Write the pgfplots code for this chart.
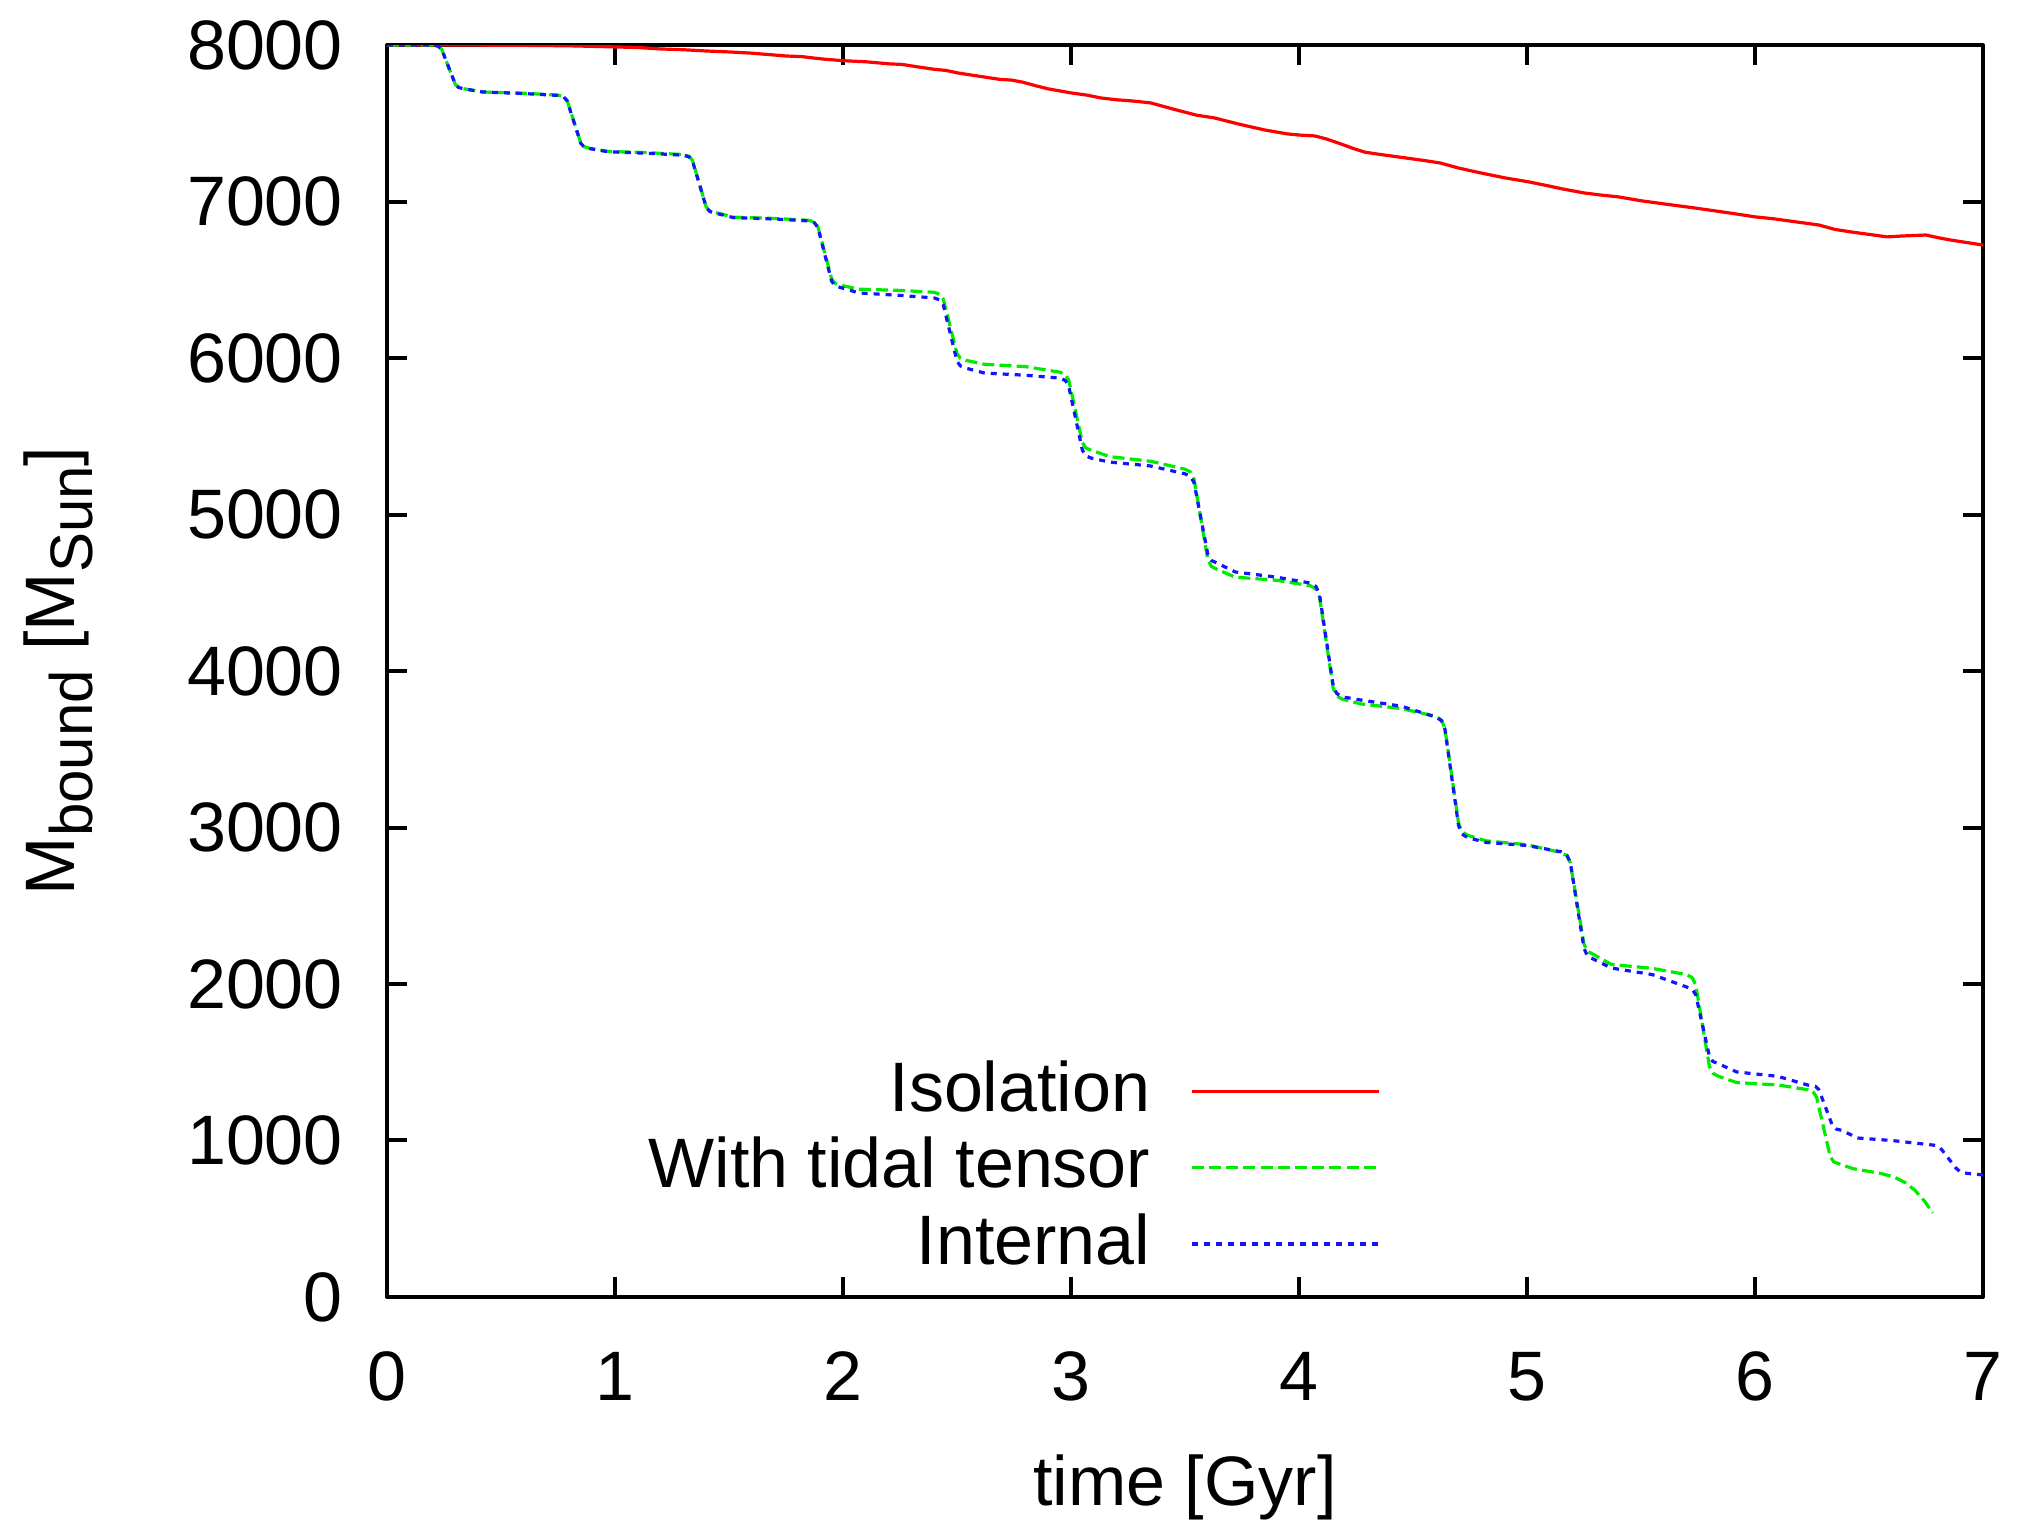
\documentclass[border=0pt]{standalone}
\usepackage{fontspec}
\setmainfont{Liberation Sans}
\usepackage{pgfplots}
\pgfplotsset{compat=1.18}
\definecolor{gpred}{RGB}{255,0,0}
\definecolor{gpgreen}{RGB}{0,235,0}
\definecolor{gpblue}{RGB}{20,20,255}
\begin{document}
\fontsize{17.5}{18}\selectfont
\begin{tikzpicture}
\begin{axis}[
 scale only axis, width=399pt, height=313pt,
 xmin=0, xmax=7, ymin=0, ymax=8000,
 xtick={0,1,...,7}, ytick={0,1000,...,8000},
 scaled y ticks=false,
 /pgf/number format/1000 sep={},
 /pgf/number format/assume math mode=true,
 tick align=inside, major tick length=5pt,
 every tick/.style={black, line width=1pt},
 axis line style={line width=1pt},
 tick label style={font=\fontsize{17.5}{18}\selectfont},
 xticklabel style={yshift=-7.75pt},
 yticklabel style={xshift=-5pt},
 xlabel={time [Gyr]},
 ylabel={M\raisebox{-4.5pt}{\fontsize{15}{15}\selectfont bound} [M\raisebox{-4.5pt}{\fontsize{15}{15}\selectfont Sun}]},
 every axis x label/.style={at={(axis description cs:0.5,-0.152)}, anchor=center, font=\fontsize{17.5}{18}\selectfont},
 every axis y label/.style={at={(axis description cs:-0.206,0.5)}, anchor=center, rotate=90, font=\fontsize{17.5}{18}\selectfont},
 legend plot pos=right, legend cell align=right,
 legend style={at={(0.623,0.014)}, anchor=south east, draw=none, fill=none, inner sep=0pt, row sep=1.75pt, column sep=9pt, nodes={inner sep=1pt}, font=\fontsize{17.5}{18}\selectfont},
 legend image code/.code={\draw[#1] (0pt,0pt) -- (46.75pt,0pt);},
 line join=round,
]
\coordinate (bl) at (rel axis cs:0,0);
\addplot[gpred, line width=0.8pt] coordinates {
(0,8000) (0.3,8000) (0.6,7998) (0.8,7995) (1.0,7988) (1.1,7984) (1.2,7975) (1.3,7970) (1.4,7962) (1.5,7956) (1.6,7948) (1.75,7930) (1.82,7926) (1.9,7912) (2.0,7900) (2.1,7893) (2.2,7880) (2.26,7876) (2.32,7862) (2.4,7845) (2.45,7838) (2.51,7820) (2.6,7800) (2.69,7780) (2.74,7776) (2.79,7762) (2.85,7738) (2.9,7720) (3.0,7694) (3.07,7680) (3.13,7662) (3.2,7650) (3.25,7645) (3.3,7638) (3.35,7630) (3.45,7590) (3.55,7552) (3.63,7534) (3.7,7508) (3.75,7490) (3.85,7457) (3.95,7432) (4.0,7425) (4.07,7419) (4.12,7400) (4.18,7370) (4.24,7338) (4.29,7315) (4.36,7300) (4.45,7282) (4.55,7262) (4.62,7246) (4.7,7214) (4.79,7185) (4.9,7152) (5.01,7125) (5.1,7098) (5.15,7082) (5.25,7055) (5.32,7042) (5.4,7030) (5.5,7005) (5.6,6985) (5.73,6960) (5.85,6935) (5.92,6920) (6.0,6902) (6.08,6890) (6.15,6876) (6.22,6862) (6.28,6850) (6.35,6822) (6.42,6806) (6.5,6790) (6.58,6774) (6.65,6780) (6.75,6786) (6.8,6770) (6.85,6756) (6.92,6740) (7.0,6722)
};
\addlegendentry{Isolation}
\addplot[gpgreen, line width=0.8pt, dash pattern=on 3pt off 1.3pt] coordinates {
(0,8000) (0.1,8000) (0.2,8000) (0.225,7992) (0.24,7972) (0.255,7916) (0.27,7860) (0.285,7804) (0.30,7748) (0.315,7728) (0.34,7720) (0.42,7700) (0.60,7692) (0.75,7680)
(0.775,7670) (0.79,7646) (0.805,7578) (0.82,7510) (0.835,7442) (0.85,7374) (0.865,7350) (0.89,7340) (0.97,7320) (1.15,7312) (1.30,7300)
(1.325,7289) (1.34,7263) (1.355,7189) (1.37,7115) (1.385,7041) (1.40,6967) (1.415,6941) (1.44,6930) (1.52,6900) (1.70,6892) (1.85,6880)
(1.875,6868) (1.89,6838) (1.905,6756) (1.92,6672) (1.935,6590) (1.95,6506) (1.965,6478) (1.99,6465) (2.07,6440) (2.25,6432) (2.40,6420)
(2.425,6407) (2.44,6376) (2.455,6290) (2.47,6202) (2.485,6116) (2.50,6028) (2.515,5998) (2.54,5985) (2.62,5960) (2.80,5945) (2.95,5910)
(2.975,5895) (2.99,5860) (3.005,5760) (3.02,5660) (3.035,5560) (3.05,5460) (3.065,5425) (3.09,5410) (3.17,5370) (3.35,5340) (3.50,5290)
(3.525,5271) (3.54,5226) (3.555,5098) (3.57,4970) (3.585,4842) (3.60,4714) (3.615,4669) (3.64,4650) (3.72,4600) (3.90,4580) (4.05,4545)
(4.075,4523) (4.09,4472) (4.105,4327) (4.12,4182) (4.135,4037) (4.15,3892) (4.165,3842) (4.19,3820) (4.27,3790) (4.45,3760) (4.60,3710)
(4.625,3687) (4.64,3634) (4.655,3482) (4.67,3330) (4.685,3178) (4.70,3026) (4.715,2973) (4.74,2950) (4.82,2915) (5.00,2890) (5.15,2840)
(5.175,2820) (5.19,2775) (5.205,2645) (5.22,2515) (5.235,2385) (5.25,2255) (5.265,2210) (5.29,2190) (5.37,2125) (5.55,2100) (5.70,2060)
(5.725,2040) (5.74,1995) (5.755,1865) (5.77,1735) (5.785,1605) (5.80,1475) (5.815,1430) (5.84,1410) (5.92,1370) (6.10,1355) (6.23,1325)
(6.255,1311) (6.27,1278) (6.285,1183) (6.30,1088) (6.315,993) (6.33,898) (6.345,864) (6.37,850) (6.43,820) (6.55,790) (6.61,767) (6.66,730) (6.70,684) (6.745,610) (6.78,537)
};
\addlegendentry{With tidal tensor}
\addplot[gpblue, line width=0.8pt, dash pattern=on 1.5pt off 1.5pt] coordinates {
(0,8000) (0.1,8000) (0.2,8000) (0.225,7992) (0.24,7972) (0.255,7916) (0.27,7860) (0.285,7804) (0.30,7748) (0.315,7728) (0.34,7720) (0.42,7700) (0.60,7690) (0.75,7678)
(0.775,7668) (0.79,7644) (0.805,7576) (0.82,7508) (0.835,7440) (0.85,7372) (0.865,7348) (0.89,7338) (0.97,7318) (1.15,7308) (1.30,7296)
(1.325,7285) (1.34,7259) (1.355,7185) (1.37,7111) (1.385,7037) (1.40,6963) (1.415,6937) (1.44,6926) (1.52,6897) (1.70,6888) (1.85,6876)
(1.875,6864) (1.89,6834) (1.905,6749) (1.92,6663) (1.935,6577) (1.95,6492) (1.965,6462) (1.99,6450) (2.07,6416) (2.25,6400) (2.40,6384)
(2.425,6371) (2.44,6339) (2.455,6249) (2.47,6160) (2.485,6070) (2.50,5980) (2.515,5949) (2.54,5935) (2.62,5904) (2.80,5890) (2.95,5872)
(2.975,5857) (2.99,5821) (3.005,5718) (3.02,5616) (3.035,5514) (3.05,5411) (3.065,5375) (3.09,5360) (3.17,5335) (3.35,5310) (3.50,5260)
(3.525,5243) (3.54,5203) (3.555,5089) (3.57,4975) (3.585,4861) (3.60,4747) (3.615,4707) (3.64,4690) (3.72,4633) (3.90,4600) (4.05,4562)
(4.075,4540) (4.09,4489) (4.105,4344) (4.12,4198) (4.135,4053) (4.15,3908) (4.165,3857) (4.19,3835) (4.27,3815) (4.45,3775) (4.60,3706)
(4.625,3683) (4.64,3629) (4.655,3475) (4.67,3320) (4.685,3166) (4.70,3012) (4.715,2958) (4.74,2935) (4.82,2905) (5.00,2885) (5.15,2845)
(5.175,2824) (5.19,2776) (5.205,2640) (5.22,2502) (5.235,2366) (5.25,2229) (5.265,2180) (5.29,2160) (5.37,2102) (5.55,2060) (5.70,1981)
(5.725,1966) (5.74,1932) (5.755,1834) (5.77,1736) (5.785,1637) (5.80,1539) (5.815,1505) (5.84,1490) (5.92,1438) (6.10,1410) (6.23,1355)
(6.265,1346) (6.28,1326) (6.295,1268) (6.31,1210) (6.325,1152) (6.34,1094) (6.355,1074) (6.38,1065) (6.45,1016) (6.60,1000) (6.78,971)
(6.80,966) (6.82,940) (6.85,883) (6.88,826) (6.90,800) (6.93,790) (7.00,780)
};
\addlegendentry{Internal}
\end{axis}
\pgfresetboundingbox
\useasboundingbox (bl) ++(-96.75pt,-58.25pt) rectangle ++(504.5pt,382.5pt);
\end{tikzpicture}
\end{document}
